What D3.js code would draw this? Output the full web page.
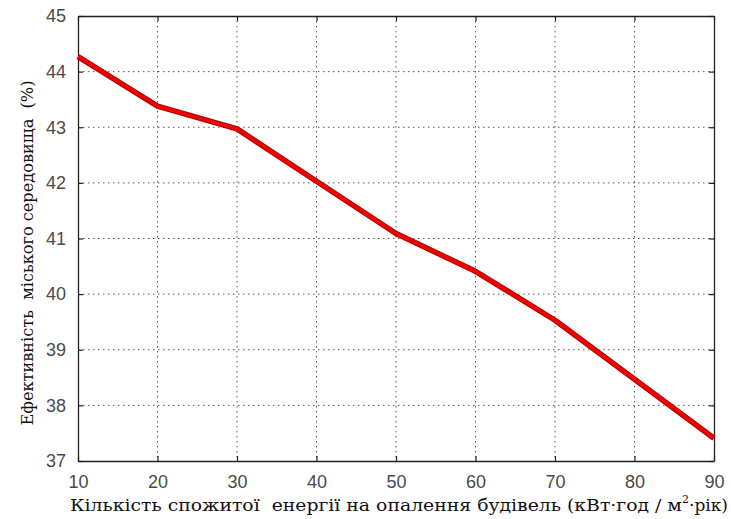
<!DOCTYPE html>
<html>
<head>
<meta charset="utf-8">
<script src="https://cdn.jsdelivr.net/npm/d3@7"></script>
<style>
  html, body { margin: 0; padding: 0; background: #fff; }
  svg { display: block; }
  .title { font-family: "DejaVu Serif", serif; white-space: pre; }
</style>
</head>
<body>
<svg id="chart" width="731" height="519"></svg>
<script>
// Energy consumption for heating (kWh / m²·year)
const energy = [10, 20, 30, 40, 50, 60, 70, 80, 90];
// Urban environment efficiency (%)
const efficiency = [44.27, 43.38, 42.97, 42.03, 41.09, 40.41, 39.53, 38.47, 37.41];

const xTicks = [10, 20, 30, 40, 50, 60, 70, 80, 90];
const yTicks = [37, 38, 39, 40, 41, 42, 43, 44, 45];

const xLabel = "Кількість спожитої  енергії на опалення будівель (кВт·год / м";
const yLabel = "Ефективність  міського середовища  (%)";

const W = 731, H = 519;
const margin = { left: 78, right: 17, top: 16, bottom: 58 };

const svg = d3.select("#chart");

const x = d3.scaleLinear().domain([10, 90]).range([margin.left, W - margin.right]);
const y = d3.scaleLinear().domain([37, 45]).range([H - margin.bottom, margin.top]);

const gridColor = "#555";

// dotted grid
svg.append("g")
  .selectAll("line")
  .data(xTicks.slice(1, -1))
  .join("line")
  .attr("x1", d => x(d)).attr("x2", d => x(d))
  .attr("y1", y(45)).attr("y2", y(37))
  .attr("stroke", gridColor).attr("stroke-width", 1)
  .attr("stroke-dasharray", "1.5,3.5");

svg.append("g")
  .selectAll("line")
  .data(yTicks.slice(1, -1))
  .join("line")
  .attr("x1", x(10)).attr("x2", x(90))
  .attr("y1", d => y(d)).attr("y2", d => y(d))
  .attr("stroke", gridColor).attr("stroke-width", 1)
  .attr("stroke-dasharray", "1.5,3.5");

// axes with inward ticks
const tickLen = 5;
const axisBottom = d3.axisBottom(x).tickValues(xTicks).tickSizeInner(-tickLen).tickSizeOuter(0).tickPadding(14);
const axisLeft = d3.axisLeft(y).tickValues(yTicks).tickSizeInner(-tickLen).tickSizeOuter(0).tickPadding(12);
const axisTop = d3.axisTop(x).tickValues(xTicks).tickSizeInner(-tickLen).tickSizeOuter(0).tickFormat("");
const axisRight = d3.axisRight(y).tickValues(yTicks).tickSizeInner(-tickLen).tickSizeOuter(0).tickFormat("");

function styleAxis(g) {
  g.attr("font-family", null).attr("font-size", null);
  g.select(".domain").attr("stroke", "#222").attr("stroke-width", 1.3);
  g.selectAll(".tick line").attr("stroke", "#222").attr("stroke-width", 1.2);
  g.selectAll(".tick text")
    .attr("fill", "#4a4a4a")
    .attr("font-family", "Liberation Sans, Arial, sans-serif")
    .attr("font-size", 18);
}

svg.append("g").attr("transform", `translate(0,${y(37)})`).call(axisBottom).call(styleAxis);
svg.append("g").attr("transform", `translate(${x(10)},0)`).call(axisLeft).call(styleAxis);
svg.append("g").attr("transform", `translate(0,${y(45)})`).call(axisTop).call(styleAxis);
svg.append("g").attr("transform", `translate(${x(90)},0)`).call(axisRight).call(styleAxis);

// data line
const line = d3.line().x((d, i) => x(energy[i])).y(d => y(d));
svg.append("path")
  .datum(efficiency)
  .attr("d", line)
  .attr("fill", "none")
  .attr("stroke", "#b30000")
  .attr("stroke-width", 5.5)
  .attr("stroke-linejoin", "round");
svg.append("path")
  .datum(efficiency)
  .attr("d", line)
  .attr("fill", "none")
  .attr("stroke", "#f00000")
  .attr("stroke-width", 3.5)
  .attr("stroke-linejoin", "round");

// axis titles
const xt = svg.append("text")
  .attr("class", "title")
  .attr("x", 70).attr("y", 511)
  .attr("text-anchor", "start")
  .attr("fill", "#111")
  .attr("font-size", 17);
xt.append("tspan").attr("textLength", 612).attr("lengthAdjust", "spacingAndGlyphs").text(xLabel);
xt.append("tspan").attr("dy", -8).attr("font-size", 11).text("2");
xt.append("tspan").attr("dy", 8).text("·рік)");

svg.append("text")
  .attr("class", "title")
  .attr("transform", `translate(33,253) rotate(-90)`)
  .attr("text-anchor", "middle")
  .attr("fill", "#111")
  .attr("font-size", 17)
  .attr("textLength", 345)
  .attr("lengthAdjust", "spacingAndGlyphs")
  .text(yLabel);
</script>
</body>
</html>
